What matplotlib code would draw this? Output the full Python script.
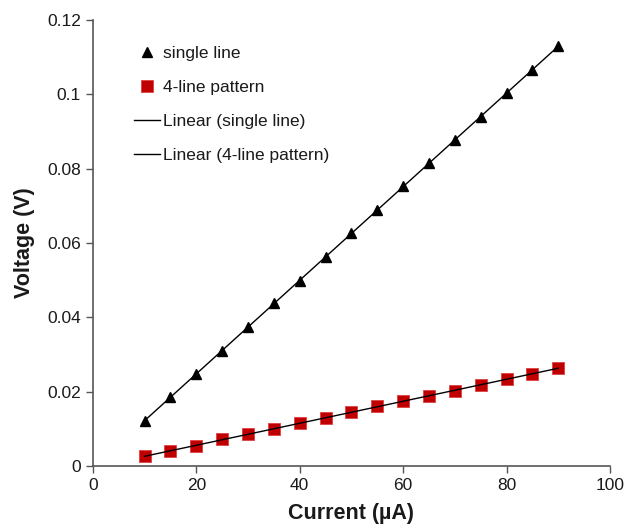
import numpy as np
import matplotlib
matplotlib.use("Agg")
import matplotlib.pyplot as plt

plt.rcParams['font.family'] = ['Liberation Sans', 'DejaVu Sans']

current = [10, 15, 20, 25, 30, 35, 40, 45, 50, 55, 60, 65, 70, 75, 80, 85, 90]
single_line = [0.0121, 0.0186, 0.0248, 0.0309, 0.0374, 0.0439, 0.0498, 0.0562, 0.0627,
               0.0689, 0.0753, 0.0815, 0.0877, 0.0939, 0.1003, 0.1065, 0.1130]
four_line = [0.0027, 0.0041, 0.0054, 0.0072, 0.0085, 0.0099, 0.0115, 0.0130, 0.0145,
             0.0161, 0.0175, 0.0189, 0.0203, 0.0219, 0.0233, 0.0248, 0.0263]
xticks = [0, 20, 40, 60, 80, 100]
yticks = [0, 0.02, 0.04, 0.06, 0.08, 0.1, 0.12]
ytick_labels = ['0', '0.02', '0.04', '0.06', '0.08', '0.1', '0.12']

fig = plt.figure(figsize=(6.36, 5.26), dpi=100)
ax = fig.add_axes([0.146, 0.114, 0.813, 0.848])

x = np.array(current)
p1 = np.polyfit(x, single_line, 1)
p2 = np.polyfit(x, four_line, 1)

h1, = ax.plot(current, single_line, linestyle='none', marker='^', color='black', markersize=7)
h2, = ax.plot(current, four_line, linestyle='none', marker='s', color='#c00000',
              markersize=9, markeredgecolor='#e04040', markeredgewidth=0.6)
h3, = ax.plot(x, np.polyval(p1, x), color='black', lw=1.0)
h4, = ax.plot(x, np.polyval(p2, x), color='black', lw=1.0)

ax.set_xlim(0, 100)
ax.set_ylim(0, 0.12)
ax.set_xticks(xticks)
ax.set_yticks(yticks)
ax.set_yticklabels(ytick_labels)
for s in ['top', 'right']:
    ax.spines[s].set_visible(False)
for s in ['left', 'bottom']:
    ax.spines[s].set_color('#555555')
    ax.spines[s].set_linewidth(1.2)
ax.tick_params(direction='out', length=5, width=1, colors='#555555', labelcolor='#1a1a1a', labelsize=12.5)

ax.set_xlabel('Current (µA)', fontsize=15.5, fontweight='bold', color='#1a1a1a', labelpad=7)
ax.set_ylabel('Voltage (V)', fontsize=15.5, fontweight='bold', color='#1a1a1a', labelpad=9)

leg = ax.legend([h1, h2, h3, h4],
                ['single line', '4-line pattern', 'Linear (single line)', 'Linear (4-line pattern)'],
                loc='upper left', frameon=False, fontsize=12.5, handlelength=1.5,
                handletextpad=0.2, labelspacing=1.1, bbox_to_anchor=(0.049, 0.978))
for t in leg.get_texts():
    t.set_color('#1a1a1a')

fig.savefig('out.png', dpi=100)
